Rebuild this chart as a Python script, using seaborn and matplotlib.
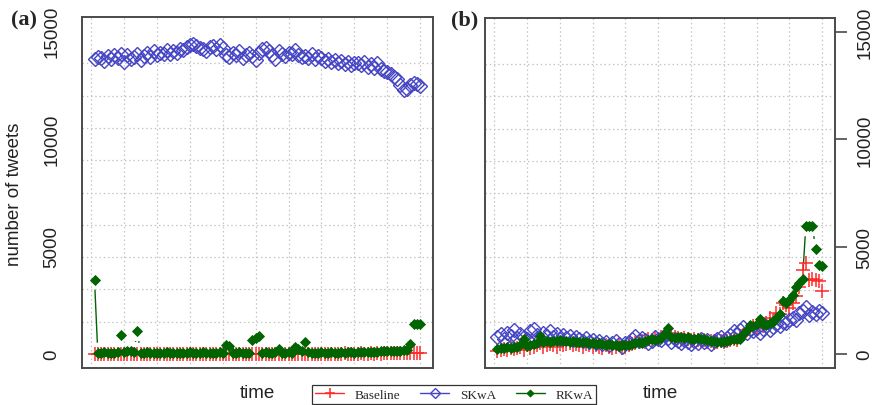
import numpy as np
import pandas as pd
import matplotlib
matplotlib.use("Agg")
import matplotlib.pyplot as plt
import seaborn as sns
from matplotlib.lines import Line2D

# ---- data -------------------------------------------------------------
series_names = ["Baseline", "SKwA", "RKwA"]
time_idx = list(range(1, 101))

baseline_a = [
    20, 10, 0, 15, 5, 10, 0, 20, 10, 5,
    15, 0, 10, 20, 5, 10, 0, 15, 10, 5,
    0, 10, 15, 5, 10, 0, 20, 10, 5, 15,
    10, 0, 5, 15, 10, 20, 0, 10, 5, 15,
    10, 5, 0, 15, 10, 5, 20, 10, 0, 15,
    5, 10, 15, 0, 10, 5, 20, 10, 15, 5,
    0, 10, 15, 5, 20, 10, 0, 15, 10, 5,
    10, 20, 5, 15, 0, 10, 25, 15, 10, 20,
    15, 25, 10, 20, 30, 15, 25, 20, 30, 25,
    35, 30, 40, 35, 45, 40, 50, 45, 55, 50]

skwa_a = [
    13700, 13800, 13750, 13600, 13850, 13700, 13900, 13750, 13950, 13550,
    13900, 13700, 13800, 13950, 13650, 13850, 14000, 13800, 14050, 13900,
    14000, 13950, 14100, 13950, 14050, 14000, 14150, 14100, 14250, 14350,
    14400, 14300, 14200, 14150, 14050, 14250, 14300, 14150, 14350, 14200,
    13900, 13800, 14000, 13900, 14050, 13750, 13900, 14000, 13850, 13650,
    14000, 14150, 14200, 14050, 13900, 13700, 14050, 13950, 13850, 14000,
    13950, 14100, 13900, 13800, 13850, 13750, 13950, 13700, 13850, 13750,
    13600, 13700, 13550, 13650, 13500, 13600, 13450, 13550, 13400, 13500,
    13500, 13400, 13550, 13350, 13450, 13300, 13500, 13250, 13150, 13100,
    13000, 12850, 12750, 12500, 12250, 12300, 12500, 12600, 12550, 12450]

rkwa_a = [
    3450, 60, 50, 70, 40, 60, 50, 80, 880, 90,
    150, 120, 100, 1060, 60, 50, 70, 60, 50, 40,
    60, 50, 70, 60, 50, 60, 40, 60, 50, 70,
    60, 50, 60, 70, 50, 60, 50, 60, 70, 60,
    430, 350, 60, 50, 70, 60, 50, 60, 650, 750,
    850, 60, 70, 50, 60, 70, 230, 60, 50, 70,
    60, 330, 220, 150, 540, 70, 60, 50, 60, 70,
    60, 50, 70, 60, 50, 70, 60, 70, 80, 60,
    70, 80, 90, 70, 100, 90, 110, 160, 120, 130,
    140, 150, 130, 160, 170, 200, 480, 1400, 1380, 1380]

baseline_b = [
    150, 200, 250, 200, 300, 250, 300, 350, 200, 400,
    300, 350, 400, 500, 350, 400, 450, 400, 350, 450,
    400, 450, 500, 400, 450, 400, 350, 450, 400, 350,
    400, 350, 300, 400, 350, 300, 350, 400, 300, 350,
    400, 450, 500, 550, 600, 550, 700, 650, 750, 700,
    800, 900, 1000, 850, 800, 750, 700, 750, 700, 650,
    700, 650, 600, 650, 550, 600, 500, 550, 600, 550,
    600, 650, 700, 650, 800, 900, 1100, 1200, 1300, 1250,
    1400, 1300, 1450, 1700, 1550, 1900, 1850, 2400, 2300, 2150,
    2400, 2700, 3100, 3900, 4250, 3450, 3500, 3450, 3400, 2950]

skwa_b = [
    800, 950, 700, 1000, 850, 1100, 750, 950, 800, 700,
    1050, 1150, 900, 700, 1000, 850, 1050, 800, 950, 700,
    900, 750, 850, 650, 800, 700, 600, 750, 550, 650,
    500, 600, 450, 550, 400, 500, 600, 450, 350, 500,
    550, 700, 850, 600, 750, 650, 500, 600, 800, 700,
    650, 900, 750, 550, 700, 600, 500, 650, 550, 450,
    600, 500, 700, 550, 650, 450, 600, 700, 800, 650,
    750, 900, 1050, 950, 1100, 1250, 1000, 1150, 1050, 1200,
    1000, 1150, 1300, 1100, 1250, 1400, 1300, 1500, 1450, 1600,
    1700, 1600, 1900, 2000, 2200, 1800, 1950, 1850, 2000, 1900]

rkwa_b = [
    250, 300, 280, 320, 300, 350, 330, 400, 700, 380,
    400, 450, 500, 850, 550, 600, 580, 620, 600, 650,
    600, 620, 580, 600, 560, 580, 540, 560, 520, 500,
    480, 500, 450, 420, 450, 400, 430, 380, 420, 400,
    430, 450, 500, 550, 500, 600, 650, 700, 650, 700,
    750, 1000, 1200, 800, 750, 800, 780, 750, 800, 720,
    700, 750, 720, 680, 650, 600, 620, 580, 550, 600,
    620, 650, 700, 680, 720, 950, 1100, 1350, 1300, 1400,
    1650, 1400, 1350, 1450, 1500, 1700, 1850, 2450, 2400, 2500,
    2750, 3100, 3300, 3500, 5950, 5950, 5950, 4900, 4150, 4100]

y_ticks = [0, 5000, 10000, 15000]
y_grid = list(range(0, 15001, 1500))
x_grid = list(range(0, 101, 10))

# ---- style -------------------------------------------------------------
sns.set_theme(style="white")
plt.rcParams["font.family"] = ["Liberation Sans", "DejaVu Sans"]

colors = {"Baseline": "#ff2a2a", "SKwA": "#4646c4", "RKwA": "#006400"}
frame_col = "#4a4a4a"

marker_kws = {
    "Baseline": dict(marker="+", markersize=10.5, markeredgewidth=1.1,
                     markeredgecolor=colors["Baseline"], markerfacecolor="none"),
    "SKwA": dict(marker="D", markersize=7.4, markeredgewidth=1.0,
                 markeredgecolor=colors["SKwA"], markerfacecolor="none"),
    "RKwA": dict(marker="D", markersize=4.8, markeredgewidth=0.6,
                 markeredgecolor=colors["RKwA"], markerfacecolor=colors["RKwA"]),
}

fig = plt.figure(figsize=(8.78, 4.06), dpi=100)
ax_a = fig.add_axes([82 / 878, 1 - 369 / 406, 351 / 878, 351 / 406])
ax_b = fig.add_axes([485 / 878, 1 - 369 / 406, 350 / 878, 350 / 406])


def gapped_line(ax, x, y, color, gap_px=10.0, lw=1.0):
    """Connect points like an R type='b' plot: segments stop short of markers."""
    pts = ax.transData.transform(np.column_stack([x, y]))
    inv = ax.transData.inverted()
    for p0, p1 in zip(pts[:-1], pts[1:]):
        d = p1 - p0
        length = np.hypot(*d)
        if length <= 2 * gap_px:
            continue
        u = d / length
        a = inv.transform(p0 + u * gap_px)
        b = inv.transform(p1 - u * gap_px)
        ax.plot([a[0], b[0]], [a[1], b[1]], color=color, lw=lw,
                solid_capstyle="butt", zorder=3)


panels = [
    (ax_a, {"Baseline": baseline_a, "SKwA": skwa_a, "RKwA": rkwa_a}, "left"),
    (ax_b, {"Baseline": baseline_b, "SKwA": skwa_b, "RKwA": rkwa_b}, "right"),
]

for ax, data, side in panels:
    df = pd.DataFrame({"time": time_idx, **data})
    ax.set_xlim(-2.8, 103.9)
    ax.set_ylim(-650, 15650)

    for name in series_names:
        gapped_line(ax, df["time"], df[name], colors[name])
        sns.lineplot(data=df, x="time", y=name, ax=ax, linestyle="none",
                     color=colors[name], zorder=4, **marker_kws[name])

    # grid on minor ticks, labelled ticks on the major ones
    ax.set_xticks([])
    ax.set_xticks(x_grid, minor=True)
    ax.set_yticks(y_ticks)
    ax.set_yticks(y_grid, minor=True)
    ax.grid(False)
    ax.grid(which="minor", color="#c4c4c4", linestyle=(0, (1.2, 2.2)), lw=0.9)
    ax.tick_params(axis="x", which="both", length=0, labelbottom=False)
    ax.tick_params(axis="y", which="minor", length=0)
    ax.tick_params(axis="y", which="major", length=8.5, width=1.2,
                   color=frame_col, direction="out", pad=7, labelsize=13.5,
                   labelcolor="#222222")
    if side == "right":
        ax.yaxis.tick_right()
        ax.tick_params(axis="y", which="minor", length=0)
    for lab in ax.get_yticklabels():
        lab.set_rotation(90)
        lab.set_va("center")
        lab.set_ha("left" if side == "right" else "right")
    ax.set_xlabel("")
    ax.set_ylabel("")
    for sp in ax.spines.values():
        sp.set_visible(True)
        sp.set_color(frame_col)
        sp.set_linewidth(1.4)
    ax.text(0.5, -0.045, "time", transform=ax.transAxes, ha="center", va="top",
            fontsize=13.5, color="#222222")

fig.text(15 / 878, 1 - 194 / 406, "number of tweets", rotation=90, ha="center",
         va="center", fontsize=13.5, color="#222222")
fig.text(24 / 878, 1 - 20 / 406, "(a)", ha="center", va="center", fontsize=16,
         fontweight="bold", family=["Liberation Serif", "DejaVu Serif"])
fig.text(465 / 878, 1 - 20 / 406, "(b)", ha="center", va="center", fontsize=16,
         fontweight="bold", family=["Liberation Serif", "DejaVu Serif"])

handles = [
    Line2D([], [], color=colors[n], lw=1.0,
           **{**marker_kws[n], "markersize": marker_kws[n]["markersize"] * 0.75})
    for n in series_names
]
leg = fig.legend(handles, series_names, loc="center", ncol=3,
                 bbox_to_anchor=(454 / 878, 1 - 395.5 / 406),
                 frameon=True, fancybox=False, edgecolor="black",
                 prop={"family": ["Liberation Serif", "DejaVu Serif"], "size": 9.5},
                 handlelength=2.2, handletextpad=0.8, columnspacing=1.5,
                 borderpad=0.25, borderaxespad=0)
leg.get_frame().set_linewidth(0.9)

fig.savefig("out.png", dpi=100)
